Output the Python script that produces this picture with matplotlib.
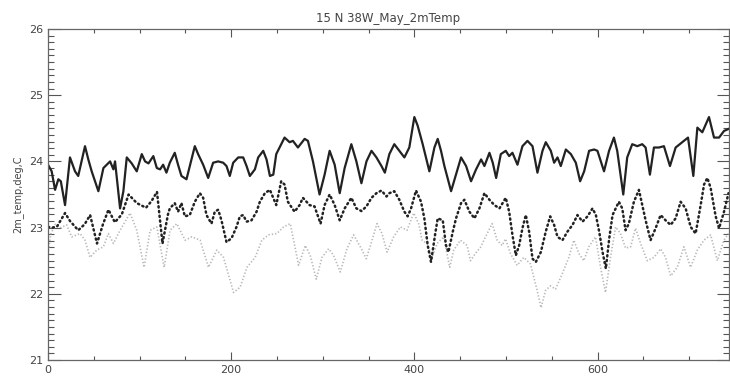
import matplotlib
matplotlib.use("Agg")
import matplotlib.pyplot as plt
from matplotlib.ticker import MultipleLocator

title = "15 N 38W_May_2mTemp"
ylabel = "2m_temp,deg,C"
xticks = [0, 200, 400, 600]
yticks = [21, 22, 23, 24, 25, 26]

solid_x = [0, 4, 7.7, 11.3, 14, 18.6, 24, 29.5, 33, 40.4, 44, 47.7, 55, 60.5, 67.8, 71.4, 73.2, 78.7,
           82.3, 86, 91.4, 96.9, 102.4, 106, 109.7, 115, 118.8, 122.4,
           125.7, 129.3, 133, 138.4, 142, 145.7, 151.2, 154.8, 160.3, 163.9, 169.4, 174.9, 180.3, 185.8,
           191.3, 194.9, 198.5, 202.2, 207.7, 213.1, 216.8, 220.4, 225.9, 229.5, 235, 238.6, 242.3,
           246, 249.2, 258.3, 263.8, 267.4, 272.9, 280.2, 283.8, 289.3, 296.5, 302, 307.5, 313, 318.5,
           323.9, 331.2, 336.7, 342.2, 347.7, 353.2, 358.6, 364.1, 367.8,
           372.7, 378.1, 383.6, 389.1, 394.5, 400, 403.6, 409.1, 416.4, 421.9, 425.5, 429.1, 432.8,
           440.1, 445.5, 451, 456.5, 461.9, 467.4, 472.9, 476.5, 482, 485.6, 489.3,
           494.4, 499.8, 503.5, 507.1, 512.6, 518, 523.5, 529, 534.4, 539.9, 543.5, 549, 552.6, 556.3,
           559.9, 565.4, 570.9, 576.3, 581, 585.4, 590.8, 596.3, 599.9, 607.1, 612.6,
           617.9, 621.5, 628.1, 632.4, 637.9, 643.4, 648.8, 652.5, 657.2, 661.6, 667.1, 672.5, 679.1,
           685.3, 692.6, 698.8, 704.6, 709, 714.4, 721.7, 727.2, 732.7, 738.1, 743]
solid_y = [23.95, 23.85, 23.57, 23.73, 23.70, 23.34, 24.06, 23.85, 23.78, 24.23, 24.03, 23.85, 23.55, 23.90,
           24.00, 23.88, 24.00, 23.29, 23.55, 24.06, 23.97, 23.85, 24.11, 24.00, 23.97, 24.08, 23.90, 23.88,
           23.95, 23.83, 23.98, 24.13, 23.95, 23.78, 23.73, 23.93, 24.23, 24.11, 23.95, 23.75, 23.98, 24.00,
           23.98, 23.93, 23.78, 23.98, 24.06, 24.06, 23.93, 23.78, 23.88, 24.06, 24.16, 24.03, 23.78,
           23.80, 24.11, 24.36, 24.29, 24.31, 24.21, 24.34, 24.31, 24.00, 23.50, 23.80, 24.16, 23.95, 23.52,
           23.90, 24.26, 24.00, 23.67, 24.00, 24.16, 24.06, 23.93, 23.83,
           24.11, 24.26, 24.16, 24.06, 24.21, 24.67, 24.54, 24.26, 23.85, 24.21, 24.34, 24.16, 23.93,
           23.55, 23.80, 24.06, 23.93, 23.70, 23.88, 24.03, 23.93, 24.13, 23.98, 23.75,
           24.11, 24.16, 24.08, 24.13, 23.95, 24.23, 24.31, 24.23, 23.83, 24.16, 24.29, 24.16, 23.98, 24.06,
           23.93, 24.18, 24.11, 23.98, 23.70, 23.85, 24.16, 24.18, 24.16, 23.85, 24.16,
           24.36, 24.16, 23.50, 24.06, 24.26, 24.23, 24.26, 24.21, 23.80, 24.21, 24.21, 24.23, 23.93,
           24.21, 24.29, 24.36, 23.78, 24.51, 24.44, 24.67, 24.36, 24.36, 24.46, 24.49]

dot_x = [0, 5, 10, 18.6, 24, 33, 40, 46, 53.5, 60, 66, 73, 80.6, 88, 97, 107, 113, 119, 125, 131,
         133, 138.4, 142, 145.7, 149.4, 154.8, 160.3, 165.8, 169.4, 173, 178.5, 182.1, 185.8, 189.4,
         194.9, 200.4, 205.8, 209.5, 213.1, 216.8, 222.2, 227.7, 231.3, 236.8, 242.3,
         249.2, 254.6, 258.3, 261.9, 269.2, 274.7, 278.3, 285.6, 291, 297.6, 302, 307.5, 313, 318.5,
         323.9, 331.2, 336.7, 342.2, 347.7, 353.2, 358.6, 364.1, 369.6,
         372.7, 378.1, 383.6, 389.1, 392.7, 396.4, 401.8, 407.3, 410.9, 414.6, 418.2, 422.6, 425.5,
         431, 434.6, 437.2, 442, 445.5, 451, 454.6, 460.1, 465.6, 471, 476.5, 482, 487.4, 492.9,
         499.8, 503.5, 507.1, 510.8, 514.4, 518, 521.7, 525.3, 529, 532.6, 538.1, 543.5, 548.3,
         552.6, 556.3, 561.7, 567.2, 572.7, 578.1, 583.6, 589.1, 594.5, 598.2, 601.8, 605.5, 609.1,
         612.8, 616.4, 623.3, 627, 630.6, 634.2, 639.7, 645.2, 648.8, 652.5, 657.9, 663.4, 668.9,
         674.3, 679.8, 685.3, 690.7, 696.2, 701.7, 707.1, 712.6, 716.3, 719.9, 723.5, 729, 732.7,
         738.1, 743]
dot_y = [23.01, 23.00, 23.02, 23.22, 23.10, 22.96, 23.05, 23.19, 22.76, 23.05, 23.27, 23.08, 23.20,
         23.50, 23.37, 23.30, 23.40, 23.54, 22.76, 23.20,
         23.29, 23.37, 23.24, 23.37, 23.17, 23.19, 23.39, 23.52, 23.45, 23.19, 23.06, 23.24, 23.27, 23.11,
         22.78, 22.84, 23.01, 23.17, 23.19, 23.09, 23.11, 23.24, 23.39, 23.52, 23.57,
         23.34, 23.70, 23.65, 23.39, 23.24, 23.34, 23.45, 23.34, 23.32, 23.06, 23.34, 23.50, 23.34, 23.11,
         23.29, 23.45, 23.29, 23.25, 23.32, 23.45, 23.52, 23.56, 23.47,
         23.52, 23.55, 23.42, 23.24, 23.17, 23.29, 23.56, 23.39, 23.14, 22.73, 22.48, 22.89, 23.14,
         23.11, 22.73, 22.63, 22.94, 23.14, 23.37, 23.42, 23.24, 23.14, 23.29, 23.52, 23.42, 23.34, 23.29,
         23.45, 23.24, 22.89, 22.58, 22.73, 22.99, 23.19, 22.94, 22.53, 22.48, 22.63, 22.94, 23.17,
         23.04, 22.86, 22.81, 22.94, 23.04, 23.19, 23.09, 23.17, 23.29, 23.19, 22.94, 22.63, 22.38,
         22.84, 23.19, 23.39, 23.29, 22.96, 23.06, 23.39, 23.57, 23.34, 23.11, 22.81, 22.99, 23.19,
         23.11, 23.04, 23.14, 23.39, 23.29, 23.01, 22.91, 23.34, 23.65, 23.75, 23.60, 23.17, 22.99,
         23.24, 23.52]

gray_x = [0, 3, 8, 14, 20.4, 25.9, 35, 40.4, 45.9, 53.2, 60.5, 65.9, 71.4, 78.7, 89.6, 96.9, 104.9,
          111.5, 118.8, 126.8, 133.3, 140.6, 149.7, 157, 166.1, 175.2, 184.3, 191.6, 202.6, 209.8,
          217.2, 226.2, 233.5, 240.8, 249.9, 257.2, 264.5, 268.2, 273.6, 280.9, 286.3, 292.9, 299.1,
          306.4, 311.8, 319.1, 326.4, 333.7, 341, 347.5, 353.8, 359.2, 364.7, 370.2, 377.4, 384.7,
          392, 399.3, 404.7, 408.4, 413.9, 419.3, 424.8, 432, 438.6, 443, 450.3, 457.6, 461.2, 466.7,
          472.1, 479.5, 484.9, 490.4, 495.8, 499.5, 504.9, 512.2, 519.5, 526.8, 530.4, 534.1, 538.4,
          543.2, 548.6, 554.1, 561.4, 568.7, 574.1, 579.6, 585, 590.5, 597.8, 603.3, 608.7, 614.2,
          619.7, 625.1, 630.6, 636.1, 641.5, 647, 654.3, 661.6, 668.9, 674.3, 679.8, 687.1, 694.3,
          701.6, 708.9, 716.2, 723.5, 730.8, 738, 743]
gray_y = [22.60, 22.90, 23.05, 23.00, 23.04, 22.86, 22.91, 22.81, 22.55, 22.66, 22.71, 22.91, 22.76,
          22.96, 23.22, 22.96, 22.40, 22.96, 23.01, 22.40, 22.96, 23.06, 22.81, 22.86, 22.81, 22.40,
          22.66, 22.55, 22.02, 22.10, 22.40, 22.55, 22.81, 22.89, 22.91, 23.01, 23.06, 22.81, 22.43,
          22.73, 22.58, 22.22, 22.55, 22.68, 22.58, 22.33, 22.68, 22.89, 22.71, 22.53, 22.81, 23.06,
          22.91, 22.63, 22.86, 23.01, 22.96, 23.22, 23.06, 22.81, 22.76, 22.55, 22.76, 22.86, 22.40,
          22.66, 22.81, 22.73, 22.50, 22.61, 22.70, 22.91, 23.06, 22.81, 22.73, 22.83, 22.61, 22.43,
          22.55, 22.45, 22.25, 22.05, 21.79, 22.05, 22.12, 22.07, 22.30, 22.55, 22.81, 22.61, 22.50,
          22.71, 22.86, 22.40, 22.02, 22.55, 23.01, 22.91, 22.69, 22.71, 22.99, 22.76, 22.50, 22.55,
          22.68, 22.55, 22.27, 22.40, 22.71, 22.40, 22.66, 22.81, 22.89, 22.50, 22.81, 22.91]

W, H = 730, 378
fig = plt.figure(figsize=(W / 100, H / 100), dpi=100)
ax = fig.add_axes([48 / W, 1 - 360 / H, (728.5 - 48) / W, (360 - 29) / H])

ax.plot(gray_x, gray_y, color="#b8b8b8", lw=1.2, linestyle=(0, (0.8, 1.2)))
ax.plot(dot_x, dot_y, color="#222222", lw=1.8, linestyle=(0, (0.5, 1.4)),
        dash_capstyle="round")
ax.plot(solid_x, solid_y, color="#222222", lw=1.6, solid_joinstyle="round")

ax.set_xlim(0, 743)
ax.set_ylim(21, 26)
ax.set_xticks(xticks)
ax.set_yticks(yticks)
ax.xaxis.set_minor_locator(MultipleLocator(50))
ax.yaxis.set_minor_locator(MultipleLocator(0.1))
tc = "#555555"
ax.tick_params(axis="both", which="both", direction="in", top=True, right=True,
               colors=tc, labelcolor="#444444", labelsize=8, width=0.8)
ax.tick_params(axis="y", which="major", length=9)
ax.tick_params(axis="y", which="minor", length=4.5)
ax.tick_params(axis="x", which="major", length=6)
ax.tick_params(axis="x", which="minor", length=3)
for s in ax.spines.values():
    s.set_color("#666666")
    s.set_linewidth(0.9)

ax.set_title(title, fontsize=8.5, color="#444444", pad=5)
ax.set_ylabel(ylabel, fontsize=7, color="#444444", labelpad=4)

fig.savefig("out.png", dpi=100)
